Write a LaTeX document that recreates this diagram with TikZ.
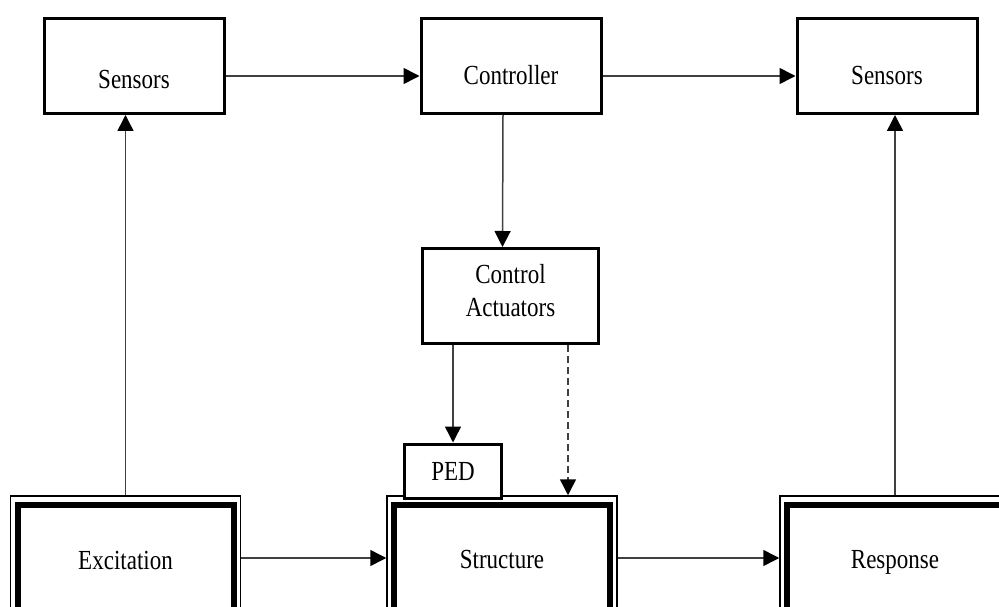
\documentclass[tikz,border=0pt]{standalone}
\usepackage{graphicx}
\usepackage{fontspec}
\setmainfont{Liberation Serif}
\usetikzlibrary{arrows.meta}
\newcommand{\stx}[1]{\scalebox{1}[1.2]{#1}}
\begin{document}
\begin{tikzpicture}[x=1pt,y=-1pt,
  box/.style={draw, line width=3pt, minimum width=180pt, minimum height=95pt, inner sep=0pt},
  thickbox/.style={draw, line width=6pt, minimum width=216pt, minimum height=106pt, inner sep=0pt},
  outerbox/.style={draw, line width=1.5pt, minimum width=230pt, minimum height=124pt, inner sep=0pt},
  txt/.style={font=\fontsize{23}{33}\selectfont, anchor=base},
  arr/.style={line width=1.5pt, draw=black!75, -{Triangle[length=16pt,width=16pt,color=black]}}]
\useasboundingbox (0,0) rectangle (999,607);
\clip (0,0) rectangle (999,607);

% top row
\node[box] (sl) at (134,66) {};
\node[txt] (slt) at (134,89) {\stx{Sensors}};
\node[box] (ctl) at (511,66) {};
\node[txt] (ctlt) at (511,85) {\stx{Controller}};
\node[box] (sr) at (887,66) {};
\node[txt] (srt) at (887,85) {\stx{Sensors}};

% actuators
\node[box, minimum width=176pt] (act) at (510.5,296) {};
\node[txt, anchor=center, align=center] (actt) at (510.5,291) {\stx{Control}\\\stx{Actuators}};

% bottom row
\node[outerbox] (exo) at (125.5,558) {};
\node[thickbox] (ex) at (125.5,558) {};
\node[txt] (ext) at (125.5,569) {\stx{Excitation}};
\node[outerbox] (sto) at (502,558) {};
\node[thickbox] (st) at (502,558) {};
\node[txt] (stt) at (502,568) {\stx{Structure}};
\node[outerbox] (rso) at (895,558) {};
\node[thickbox] (rs) at (895,558) {};
\node[txt] (rst) at (895,568) {\stx{Response}};

% PED
\node[draw, line width=3pt, fill=white, minimum width=97pt, minimum height=54pt, inner sep=0pt] (ped) at (453,471) {};
\node[txt] (pedt) at (453,480) {\stx{PED}};

% connectors
\draw[arr] ([yshift=-10pt]sl.east) -- ([yshift=-10pt]ctl.west);
\draw[arr] ([yshift=-10pt]ctl.east) -- ([yshift=-10pt]sr.west);
\draw[arr] ([xshift=-8pt]ctl.south) -- ([xshift=-8pt]act.north);
\draw[arr] (exo.north) -- (exo.north |- sl.south);
\draw[arr] (rso.north) -- (rso.north |- sr.south);
\draw[arr] (act.south -| ped.north) -- (ped.north);
\coordinate (dsh) at (568,400);
\draw[arr, dash pattern=on 7pt off 4pt] (act.south -| dsh) -- (dsh |- sto.north);
\draw[arr] (exo.east) -- (sto.west);
\draw[arr] (sto.east) -- (rso.west);
\end{tikzpicture}
\end{document}
